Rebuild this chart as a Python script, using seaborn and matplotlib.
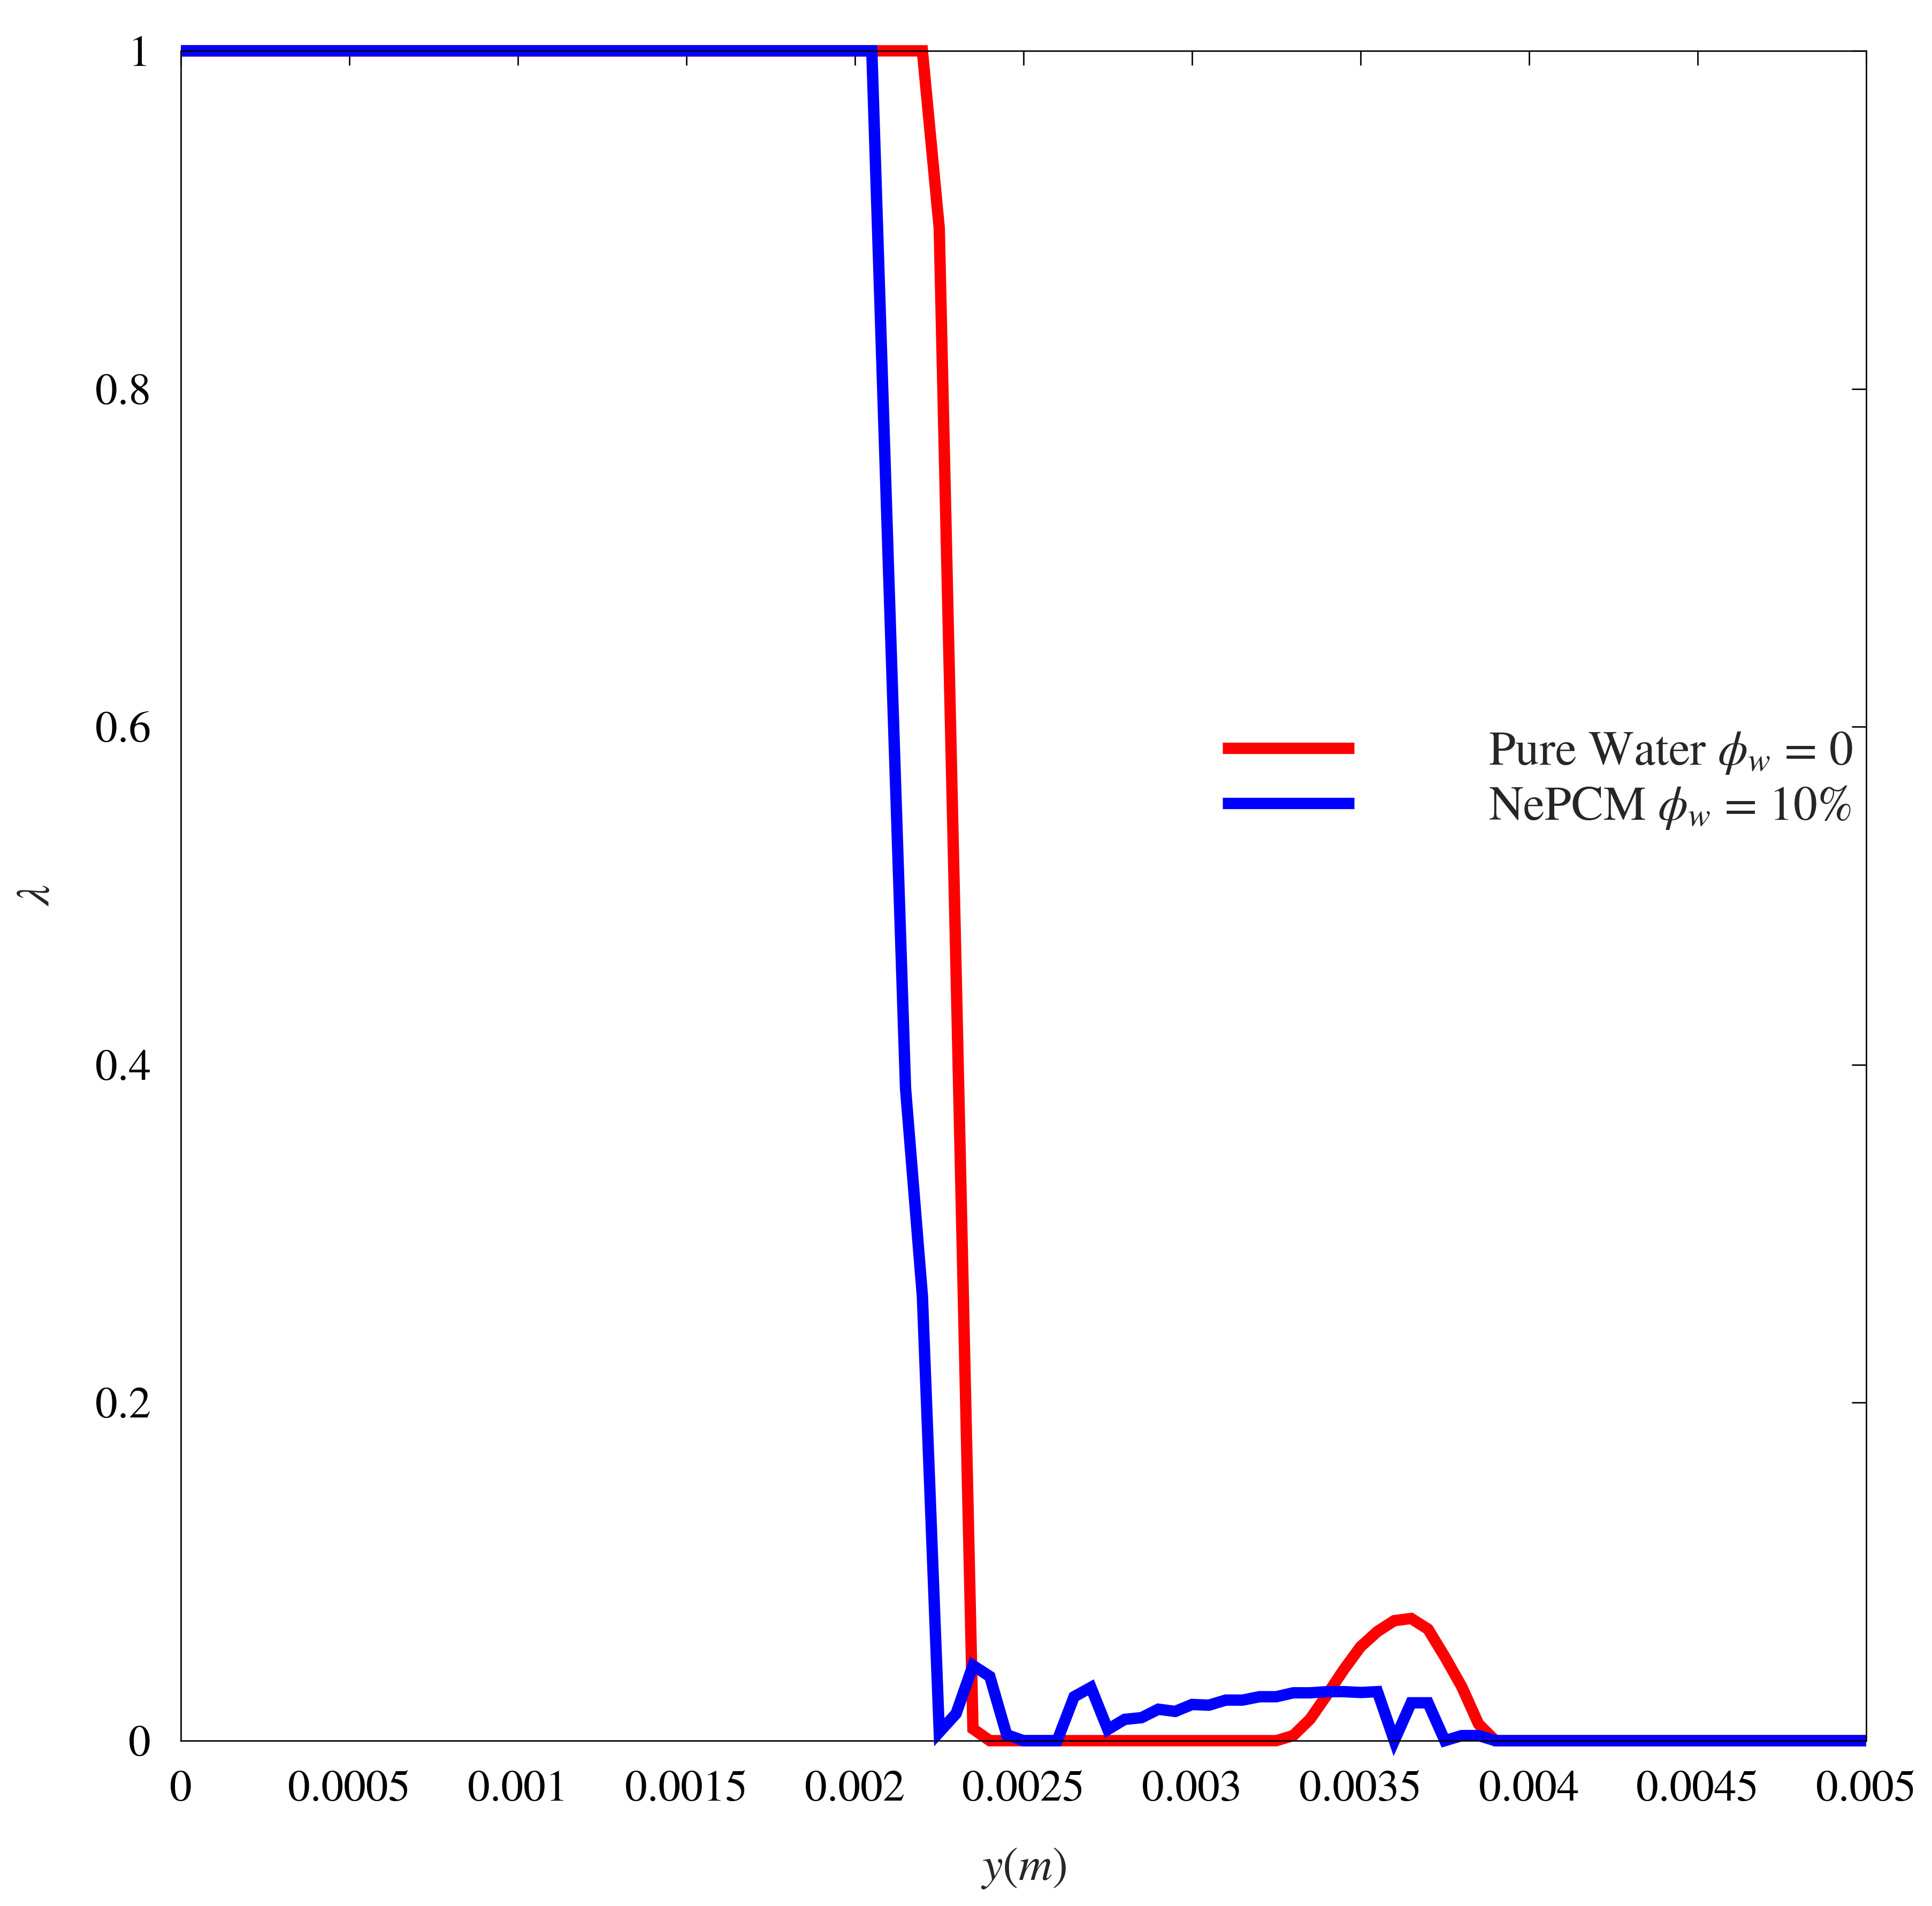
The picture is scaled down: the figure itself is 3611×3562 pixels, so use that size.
import numpy as np
import pandas as pd
import matplotlib
matplotlib.use("Agg")
import matplotlib.pyplot as plt
import seaborn as sns
from matplotlib.lines import Line2D

# ---- data ----
red_x = [0.0, 0.0022, 0.00225, 0.0023, 0.00235, 0.0024, 0.00325, 0.0033, 0.00335,
         0.0034, 0.00345, 0.0035, 0.00355, 0.0036, 0.00365, 0.0037, 0.00375,
         0.0038, 0.00385, 0.0039, 0.005]
red_lam = [1.0, 1.0, 0.895, 0.455, 0.007, 0.0, 0.0, 0.003, 0.0127,
           0.027, 0.042, 0.0556, 0.0646, 0.071, 0.0723, 0.066, 0.0496,
           0.032, 0.0098, 0.0, 0.0]

blue_x = [0.0, 0.00205, 0.0021, 0.00215, 0.0022, 0.00225, 0.0023, 0.00235, 0.0024,
          0.00245, 0.0025, 0.0026, 0.00265, 0.0027, 0.00275, 0.0028, 0.00285,
          0.0029, 0.00295, 0.003, 0.00305, 0.0031, 0.00315, 0.0032, 0.00325,
          0.0033, 0.00335, 0.0034, 0.00345, 0.0035, 0.00355, 0.0036, 0.00365,
          0.0037, 0.00375, 0.0038, 0.00385, 0.0039, 0.005]
blue_lam = [1.0, 1.0, 0.69, 0.386, 0.263, 0.005, 0.016, 0.0445, 0.038,
            0.0035, 0.0, 0.0, 0.026, 0.0315, 0.0066, 0.0126, 0.0136,
            0.0186, 0.0173, 0.0214, 0.021, 0.024, 0.024, 0.026, 0.026,
            0.0283, 0.0283, 0.029, 0.029, 0.0285, 0.029, 0.0, 0.0224,
            0.0224, 0.0, 0.003, 0.003, 0.0, 0.0]

series_names = [r"Pure Water $\phi_w$ = 0", r"NePCM $\phi_w$ = 10%"]
series_colors = ["#ff0000", "#0000ff"]

x_ticks = [0, 0.0005, 0.001, 0.0015, 0.002, 0.0025, 0.003, 0.0035, 0.004, 0.0045, 0.005]
x_tick_labels = ["0", "0.0005", "0.001", "0.0015", "0.002", "0.0025", "0.003",
                 "0.0035", "0.004", "0.0045", "0.005"]
y_ticks = [0, 0.2, 0.4, 0.6, 0.8, 1.0]
y_tick_labels = ["0", "0.2", "0.4", "0.6", "0.8", "1"]

df = pd.concat([
    pd.DataFrame({"y": red_x, "lam": red_lam, "series": series_names[0]}),
    pd.DataFrame({"y": blue_x, "lam": blue_lam, "series": series_names[1]}),
], ignore_index=True)

# ---- style ----
sns.set_theme(style="white")
plt.rcParams["font.family"] = ["STIXGeneral", "Liberation Serif", "DejaVu Serif"]
plt.rcParams["mathtext.fontset"] = "stix"
plt.rcParams["axes.edgecolor"] = "black"
plt.rcParams["axes.linewidth"] = 0.65

FS = 20
LW = 5.1
fig = plt.figure(figsize=(3611 / 300, 3562 / 300), dpi=300)
ax = fig.add_axes([338 / 3611, 1 - 3253 / 3562, (3488 - 338) / 3611, (3253 - 95) / 3562])

sns.lineplot(data=df, x="y", y="lam", hue="series", palette=series_colors,
             hue_order=series_names, estimator=None, sort=False,
             linewidth=LW, ax=ax, legend=False)

for line in ax.get_lines():
    line.set_clip_on(False)
    line.set_solid_capstyle("butt")
    line.set_solid_joinstyle("miter")

ax.set_xlim(0, 0.005)
ax.set_ylim(0, 1)
ax.set_xticks(x_ticks)
ax.set_xticklabels(x_tick_labels)
ax.set_yticks(y_ticks)
ax.set_yticklabels(y_tick_labels)
ax.tick_params(direction="in", length=6.5, width=0.65, colors="black",
               labelsize=FS, pad=13.5, top=True, right=True,
               labeltop=False, labelright=False)
for sp in ax.spines.values():
    sp.set_visible(True)
    sp.set_color("black")
    sp.set_linewidth(0.65)

ax.set_xlabel(r"$y(m)$", fontsize=FS + 1, labelpad=16)
ax.set_ylabel(r"$\lambda$", fontsize=FS + 1, labelpad=16)

handles = [Line2D([], [], color=c, linewidth=LW, solid_capstyle="butt") for c in series_colors]
ax.legend(handles, series_names, loc="center left", bbox_to_anchor=(0.618, 0.568),
          frameon=False, fontsize=FS + 1.5, handlelength=2.75, handletextpad=2.8,
          labelspacing=0.18, borderpad=0, borderaxespad=0)

fig.savefig("out.png", dpi=300, facecolor="white")
